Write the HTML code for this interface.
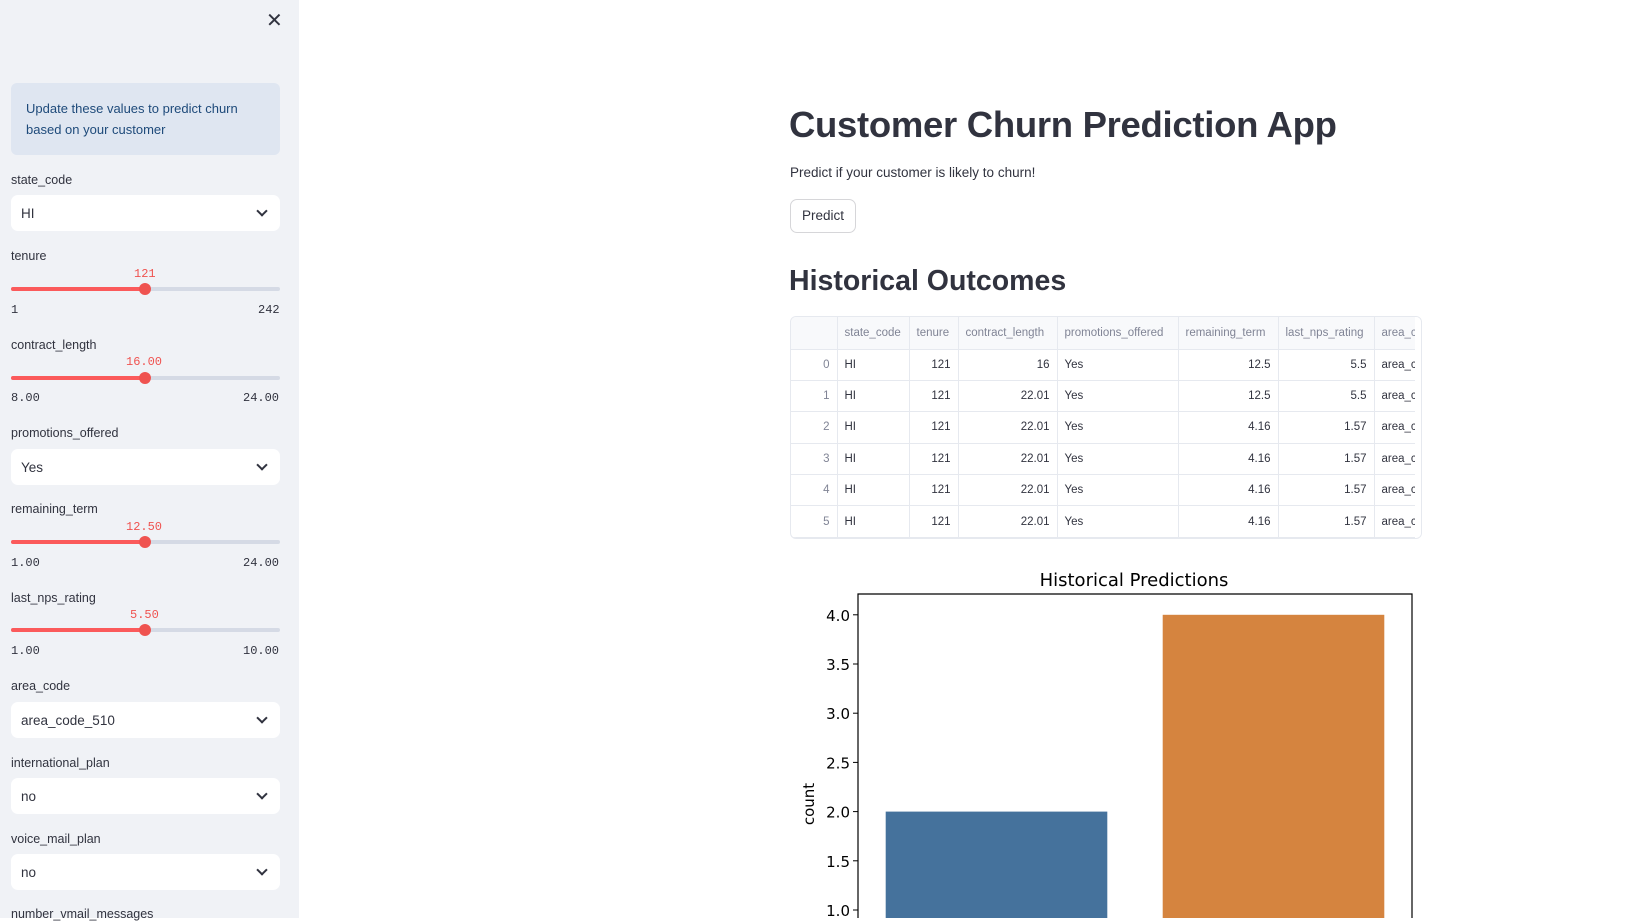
<!DOCTYPE html>
<html><head><meta charset="utf-8">
<style>
*{box-sizing:border-box;margin:0;padding:0}
body{width:1625px;height:918px;overflow:hidden;background:#fff;font-family:"Liberation Sans",sans-serif;color:#31333f;position:relative}
.abs{position:absolute}
#sb{left:0;top:0;width:299px;height:918px;background:#f0f2f6}
.lbl{position:absolute;left:11px;font-size:12.5px;color:#31333f}
.sel{position:absolute;left:11px;width:269px;height:36px;background:#fff;border-radius:7px;font-size:13.5px;padding:11px 10px}
.sel .chev{position:absolute;right:14px;top:12px;width:8px;height:8px;border-right:2px solid #31333f;border-bottom:2px solid #31333f;transform:rotate(45deg)}
.track{position:absolute;left:11px;width:269px;height:4px;background:#d5dae5;border-radius:2px}
.fill{position:absolute;left:0;top:0;height:4px;background:#ff4b4b;border-radius:2px;opacity:.9}
.thumb{position:absolute;top:-4px;width:12px;height:12px;border-radius:50%;background:#ef5350;margin-left:-6px}
.mono{position:absolute;font-family:"Liberation Mono",monospace;font-size:12px}
.val{color:#ef5350}
table{border-collapse:collapse;font-size:11.5px}
td,th{border-right:1px solid #e6e9ef;border-bottom:1px solid #e6e9ef;height:31.4px;padding:0 7px;white-space:nowrap;overflow:hidden}
th{font-weight:normal;color:#808495;background:#f8f9fb;height:32px;text-align:left}
td.n{text-align:right}
td.i{text-align:right;color:#808495}
</style></head><body>
<div id="sb" class="abs">
  <div class="abs" style="left:266px;top:8px;font-size:20px;color:#31333f">✕</div>
  <div class="abs" style="left:11px;top:83px;width:269px;height:72px;background:#dfe6f1;border-radius:6px;padding:15px 15px;font-size:13px;line-height:21px;color:#1e4a7a">Update these values to predict churn based on your customer</div>

  <div class="lbl" style="top:173px">state_code</div>
  <div class="sel" style="top:195px">HI<span class="chev"></span></div>

  <div class="lbl" style="top:249px">tenure</div>
  <div class="mono val" style="left:134px;top:267px">121</div>
  <div class="track" style="top:287px"><div class="fill" style="width:134px"></div><div class="thumb" style="left:134px"></div></div>
  <div class="mono" style="left:11px;top:303px">1</div>
  <div class="mono" style="left:258px;top:303px">242</div>

  <div class="lbl" style="top:338px">contract_length</div>
  <div class="mono val" style="left:126px;top:355px">16.00</div>
  <div class="track" style="top:376px"><div class="fill" style="width:134px"></div><div class="thumb" style="left:134px"></div></div>
  <div class="mono" style="left:11px;top:391px">8.00</div>
  <div class="mono" style="left:243px;top:391px">24.00</div>

  <div class="lbl" style="top:426px">promotions_offered</div>
  <div class="sel" style="top:449px">Yes<span class="chev"></span></div>

  <div class="lbl" style="top:502px">remaining_term</div>
  <div class="mono val" style="left:126px;top:520px">12.50</div>
  <div class="track" style="top:540px"><div class="fill" style="width:134px"></div><div class="thumb" style="left:134px"></div></div>
  <div class="mono" style="left:11px;top:556px">1.00</div>
  <div class="mono" style="left:243px;top:556px">24.00</div>

  <div class="lbl" style="top:591px">last_nps_rating</div>
  <div class="mono val" style="left:130px;top:608px">5.50</div>
  <div class="track" style="top:628px"><div class="fill" style="width:134px"></div><div class="thumb" style="left:134px"></div></div>
  <div class="mono" style="left:11px;top:644px">1.00</div>
  <div class="mono" style="left:243px;top:644px">10.00</div>

  <div class="lbl" style="top:679px">area_code</div>
  <div class="sel" style="top:702px">area_code_510<span class="chev"></span></div>

  <div class="lbl" style="top:756px">international_plan</div>
  <div class="sel" style="top:778px">no<span class="chev"></span></div>

  <div class="lbl" style="top:832px">voice_mail_plan</div>
  <div class="sel" style="top:854px">no<span class="chev"></span></div>

  <div class="lbl" style="top:907px">number_vmail_messages</div>
</div>

<div class="abs" style="left:789px;top:104px;font-size:36.5px;font-weight:bold;color:#31333f;white-space:nowrap;letter-spacing:-0.3px">Customer Churn Prediction App</div>
<div class="abs" style="left:790px;top:165px;font-size:13.5px">Predict if your customer is likely to churn!</div>
<div class="abs" style="left:790px;top:199px;width:66px;height:34px;border:1px solid #d6d6d9;border-radius:7px;font-size:13.5px;text-align:center;line-height:32px;background:#fff">Predict</div>
<div class="abs" style="left:789px;top:265px;font-size:28.5px;font-weight:600;white-space:nowrap">Historical Outcomes</div>

<div class="abs" style="left:790px;top:316px;width:632px;height:223px;border:1px solid #e6e9ef;border-radius:6px;overflow:hidden">
<table style="table-layout:fixed;width:660px">
<colgroup><col style="width:46px"><col style="width:72px"><col style="width:49px"><col style="width:99px"><col style="width:121px"><col style="width:100px"><col style="width:96px"><col style="width:77px"></colgroup>
<tr><th></th><th>state_code</th><th>tenure</th><th>contract_length</th><th>promotions_offered</th><th>remaining_term</th><th>last_nps_rating</th><th>area_code</th></tr>
<tr><td class="i">0</td><td>HI</td><td class="n">121</td><td class="n">16</td><td>Yes</td><td class="n">12.5</td><td class="n">5.5</td><td>area_code_510</td></tr>
<tr><td class="i">1</td><td>HI</td><td class="n">121</td><td class="n">22.01</td><td>Yes</td><td class="n">12.5</td><td class="n">5.5</td><td>area_code_510</td></tr>
<tr><td class="i">2</td><td>HI</td><td class="n">121</td><td class="n">22.01</td><td>Yes</td><td class="n">4.16</td><td class="n">1.57</td><td>area_code_510</td></tr>
<tr><td class="i">3</td><td>HI</td><td class="n">121</td><td class="n">22.01</td><td>Yes</td><td class="n">4.16</td><td class="n">1.57</td><td>area_code_510</td></tr>
<tr><td class="i">4</td><td>HI</td><td class="n">121</td><td class="n">22.01</td><td>Yes</td><td class="n">4.16</td><td class="n">1.57</td><td>area_code_510</td></tr>
<tr><td class="i">5</td><td>HI</td><td class="n">121</td><td class="n">22.01</td><td>Yes</td><td class="n">4.16</td><td class="n">1.57</td><td>area_code_510</td></tr>
</table>
<div class="abs" style="right:0;top:0;width:6px;height:223px;background:#fff"></div>
</div>

<svg class="abs" style="left:0;top:0" width="1625" height="918">
<text x="1134" y="586" text-anchor="middle" font-family="DejaVu Sans, sans-serif" font-size="18" fill="#000">Historical Predictions</text>
<text transform="translate(814,804) rotate(-90)" text-anchor="middle" font-family="DejaVu Sans, sans-serif" font-size="15" fill="#000">count</text>
<g id="plot"></g>
</svg>
<script>
const categories = ["No churn", "Churn"];
const counts = [2, 4];
const yTicks = [1.0, 1.5, 2.0, 2.5, 3.0, 3.5, 4.0];
const colors = ["#45729c", "#d5843f"];
(function(){
  const ns = "http://www.w3.org/2000/svg";
  const g = document.getElementById('plot');
  const L = 858, R = 1412, T = 594;
  const y = v => 910 - (v - 1.0) * 98.4;
  const band = (R - L) / categories.length;
  const x = i => L + band * i;
  counts.forEach((c, i) => {
    const r = document.createElementNS(ns, 'rect');
    const w = band * 0.8;
    r.setAttribute('x', x(i) + band * 0.1);
    r.setAttribute('y', y(c));
    r.setAttribute('width', w);
    r.setAttribute('height', Math.max(0, 960 - y(c)));
    r.setAttribute('fill', colors[i]);
    
    
    g.appendChild(r);
  });
  yTicks.forEach(t => {
    const ln = document.createElementNS(ns, 'line');
    ln.setAttribute('x1', L - 5); ln.setAttribute('x2', L);
    ln.setAttribute('y1', y(t)); ln.setAttribute('y2', y(t));
    ln.setAttribute('stroke', '#000');
    
    
    g.appendChild(ln);
    const tx = document.createElementNS(ns, 'text');
    tx.setAttribute('x', L - 8); tx.setAttribute('y', y(t) + 6);
    tx.setAttribute('text-anchor', 'end');
    tx.setAttribute('font-family', 'DejaVu Sans, sans-serif');
    tx.setAttribute('font-size', '15');
    tx.textContent = t.toFixed(1);
    
    
    g.appendChild(tx);
  });
  const fr = document.createElementNS(ns, 'path');
  fr.setAttribute('d', `M${L},960 V${T} H${R} V960`);
  fr.setAttribute('fill', 'none'); fr.setAttribute('stroke', '#000'); fr.setAttribute('stroke-width', '1.2');
  
  
  g.appendChild(fr);
})();
</script>
</body></html>
